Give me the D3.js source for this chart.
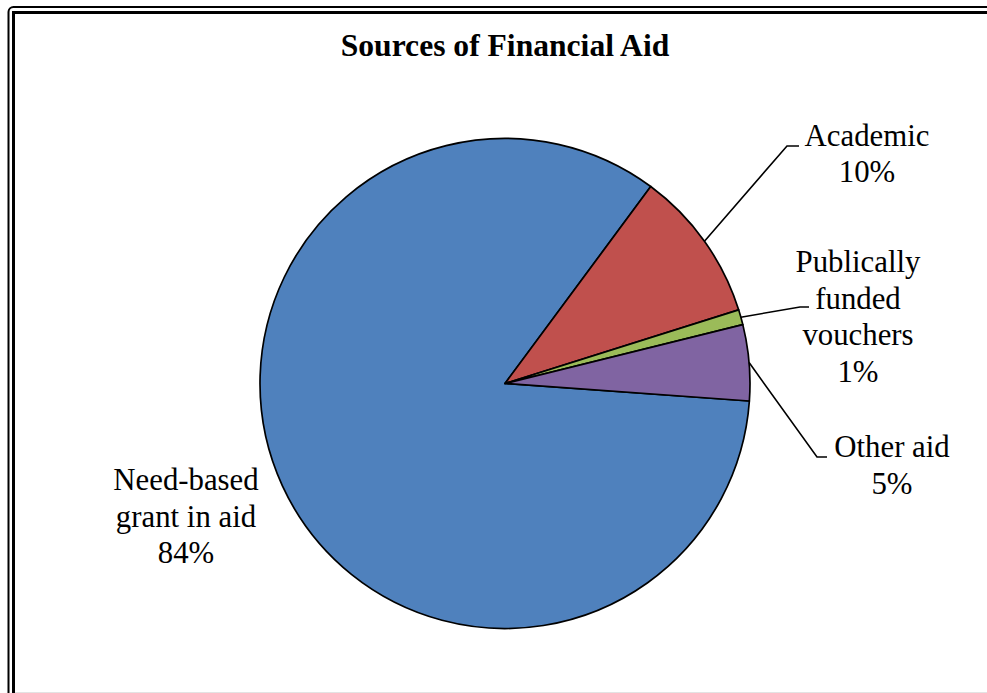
<!DOCTYPE html>
<html>
<head>
<meta charset="utf-8">
<script src="https://cdn.jsdelivr.net/npm/d3@7"></script>
<style>
  html, body { margin: 0; padding: 0; background: #fff; }
  svg { display: block; }
</style>
</head>
<body>
<svg id="chart" width="987" height="693"></svg>
<script>
// Aid sources and their shares of total aid (percent)
const categories = ["Need-based grant in aid", "Academic", "Publically funded vouchers", "Other aid"];
const values = [84, 10, 1, 5];
const labelLines = [
  ["Need-based", "grant in aid", "84%"],
  ["Academic", "10%"],
  ["Publically", "funded", "vouchers", "1%"],
  ["Other aid", "5%"]
];
const colors = ["#4F81BD", "#C0504D", "#9BBB59", "#8064A2"];

const W = 987, H = 693;
const cx = 505, cy = 383.5, R = 245;
const font = "'Liberation Serif', 'Times New Roman', serif";
const lineH = 36.5;

const svg = d3.select("#chart");

// Double frame around the chart area
svg.append("rect")
  .attr("x", 8.5).attr("y", 7).attr("width", W + 20).attr("height", H + 20)
  .attr("rx", 5).attr("fill", "none").attr("stroke", "#000").attr("stroke-width", 2);
svg.append("rect")
  .attr("x", 13.5).attr("y", 12.5).attr("width", W + 20).attr("height", H + 20)
  .attr("fill", "none").attr("stroke", "#000").attr("stroke-width", 3);
svg.append("line")
  .attr("x1", 15).attr("x2", W).attr("y1", 692.5).attr("y2", 692.5)
  .attr("stroke", "#e3e3e3").attr("stroke-width", 1);

// Title
svg.append("text")
  .attr("x", cx).attr("y", 56)
  .attr("text-anchor", "middle")
  .attr("font-family", font).attr("font-weight", "bold").attr("font-size", 31.6)
  .text("Sources of Financial Aid");

// Pie layout: first slice rotated so it starts a little past 3 o'clock
const firstSliceAngle = 94.1 * Math.PI / 180;
const pie = d3.pie().sort(null).value(d => d)
  .startAngle(firstSliceAngle).endAngle(firstSliceAngle + 2 * Math.PI);
const arcs = pie(values);
const arc = d3.arc().innerRadius(0).outerRadius(R);

const g = svg.append("g").attr("transform", `translate(${cx},${cy})`);
g.selectAll("path.slice")
  .data(arcs)
  .join("path")
  .attr("class", "slice")
  .attr("d", arc)
  .attr("fill", (d, i) => colors[i])
  .attr("stroke", "#000")
  .attr("stroke-width", 1.7)
  .attr("stroke-linejoin", "round");

// Label placement: text block centre (x) and first baseline (y); elbow of leader line
const labelLayout = [
  { x: 186, y: 490, elbow: null },
  { x: 867, y: 145.5, elbow: [787, 146], tail: 12 },
  { x: 858, y: 272, elbow: [800, 307], tail: 9 },
  { x: 892, y: 457, elbow: [817, 457], tail: 10 }
];

arcs.forEach((d, i) => {
  const L = labelLayout[i];
  const mid = (d.startAngle + d.endAngle) / 2;
  if (L.elbow) {
    const sx = cx + R * Math.sin(mid);
    const sy = cy - R * Math.cos(mid);
    const [ex, ey] = L.elbow;
    svg.append("polyline")
      .attr("points", `${sx},${sy} ${ex},${ey} ${ex + L.tail},${ey}`)
      .attr("fill", "none").attr("stroke", "#000").attr("stroke-width", 1.6);
  }
  const t = svg.append("text")
    .attr("font-family", font).attr("font-size", 30.8)
    .attr("text-anchor", "middle").attr("fill", "#000");
  labelLines[i].forEach((line, j) => {
    t.append("tspan").attr("x", L.x).attr("y", L.y + j * lineH).text(line);
  });
});
</script>
</body>
</html>
